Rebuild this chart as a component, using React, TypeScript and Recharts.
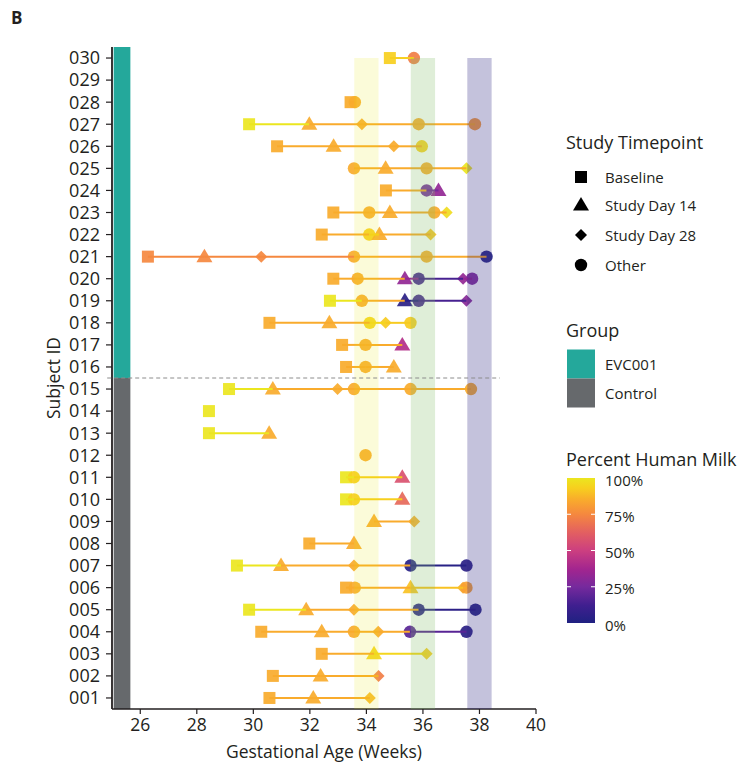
import React from 'react';
import {
  ComposedChart,
  Scatter,
  XAxis,
  YAxis,
  ReferenceArea,
  ReferenceLine
} from 'recharts';

// subject ids, bottom (001) to top (030)
const subjectIds = [
  '001', '002', '003', '004', '005', '006', '007', '008', '009', '010',
  '011', '012', '013', '014', '015', '016', '017', '018', '019', '020',
  '021', '022', '023', '024', '025', '026', '027', '028', '029', '030'
];

// gestational age (weeks) of each sample, per subject
const gestAge: number[][] = [
  [30.57, 32.12, 34.12],
  [30.69, 32.38, 34.43],
  [32.42, 34.27, 36.13],
  [30.28, 32.42, 33.56, 34.42, 35.54, 37.54],
  [29.85, 31.87, 33.56, 35.85, 37.86],
  [33.28, 33.59, 35.56, 37.42, 37.54],
  [29.42, 30.98, 33.56, 35.56, 37.54],
  [31.98, 33.56],
  [34.27, 35.69],
  [33.28, 33.56, 35.27],
  [33.28, 33.56, 35.27],
  [33.97],
  [28.43, 30.56],
  [28.43],
  [29.14, 30.69, 32.98, 33.56, 35.56, 37.7],
  [33.28, 33.97, 34.97],
  [33.14, 33.97, 35.27],
  [30.57, 32.69, 34.12, 34.68, 35.56],
  [32.71, 33.84, 35.36, 35.85, 37.54],
  [32.83, 33.69, 35.36, 35.85, 37.42, 37.74],
  [26.27, 28.27, 30.28, 33.56, 36.13, 38.25],
  [32.42, 34.1, 34.46, 36.27],
  [32.83, 34.1, 34.83, 36.4, 36.84],
  [34.69, 36.13, 36.55],
  [33.56, 34.68, 36.13, 37.54],
  [30.84, 32.84, 34.97, 35.96],
  [29.85, 31.98, 33.84, 35.85, 37.84],
  [33.44, 33.59],
  [],
  [34.83, 35.68]
];

// B = Baseline, T14 = Study Day 14, T28 = Study Day 28, O = Other
const timepoint: string[][] = [
  ['B', 'T14', 'T28'],
  ['B', 'T14', 'T28'],
  ['B', 'T14', 'T28'],
  ['B', 'T14', 'O', 'T28', 'O', 'O'],
  ['B', 'T14', 'T28', 'O', 'O'],
  ['B', 'O', 'T14', 'T28', 'O'],
  ['B', 'T14', 'T28', 'O', 'O'],
  ['B', 'T14'],
  ['T14', 'T28'],
  ['B', 'O', 'T14'],
  ['B', 'O', 'T14'],
  ['O'],
  ['B', 'T14'],
  ['B'],
  ['B', 'T14', 'T28', 'O', 'O', 'O'],
  ['B', 'O', 'T14'],
  ['B', 'O', 'T14'],
  ['B', 'T14', 'O', 'T28', 'O'],
  ['B', 'O', 'T14', 'O', 'T28'],
  ['B', 'O', 'T14', 'O', 'T28', 'O'],
  ['B', 'T14', 'T28', 'O', 'O', 'O'],
  ['B', 'O', 'T14', 'T28'],
  ['B', 'O', 'T14', 'O', 'T28'],
  ['B', 'O', 'T14'],
  ['O', 'T14', 'O', 'T28'],
  ['B', 'T14', 'T28', 'O'],
  ['B', 'T14', 'T28', 'O', 'O'],
  ['B', 'O'],
  [],
  ['B', 'O']
];

// percent human milk at each sample
const humanMilkPct: number[][] = [
  [85, 85, 88],
  [85, 85, 72],
  [85, 95, 92],
  [85, 85, 85, 85, 18, 4],
  [100, 85, 85, 5, 2],
  [85, 85, 90, 85, 82],
  [100, 85, 85, 3, 4],
  [85, 85],
  [85, 85],
  [100, 93, 65],
  [100, 93, 57],
  [85],
  [100, 85],
  [100],
  [100, 85, 85, 85, 85, 85],
  [85, 85, 85],
  [85, 85, 42],
  [85, 85, 95, 92, 92],
  [100, 85, 4, 14, 30],
  [85, 85, 33, 14, 33, 28],
  [75, 75, 75, 85, 85, 2],
  [85, 93, 85, 90],
  [85, 85, 85, 85, 97],
  [85, 25, 33],
  [85, 85, 85, 100],
  [85, 85, 85, 93],
  [100, 85, 85, 85, 80],
  [85, 85],
  [],
  [93, 72]
];

const xTicks = [26, 28, 30, 32, 34, 36, 38, 40];
const yTicks = subjectIds.map((_, i) => i + 1);
// sampling windows (weeks)
const windowStart = [33.57, 35.57, 37.57];
const windowEnd = [34.43, 36.43, 38.43];
const windowColors = ['#e6e600', '#7fbb63', '#2a2580'];
const windowOpacity = [0.15, 0.25, 0.28];
const groupBreak = 15.5;
const timepointLabels = ['Baseline', 'Study Day 14', 'Study Day 28', 'Other'];
const timepointKeys = ['B', 'T14', 'T28', 'O'];
const groupLabels = ['EVC001', 'Control'];
const groupColors = ['#24a89b', '#66696c'];
const milkTicks = [100, 75, 50, 25, 0];

const COLOR_STOPS: [number, string][] = [
  [0, '#1f2181'],
  [12, '#3f1f8f'],
  [25, '#762a9d'],
  [37, '#a2258f'],
  [50, '#cc3f80'],
  [62, '#e25e62'],
  [75, '#f5883f'],
  [85, '#f9ab2c'],
  [93, '#f7cf1e'],
  [100, '#ebe61f']
];

const hex = (c: string) => [1, 3, 5].map((i) => parseInt(c.slice(i, i + 2), 16));
const milkColor = (p: number) => {
  for (let i = 1; i < COLOR_STOPS.length; i++) {
    const [p1, c1] = COLOR_STOPS[i];
    const [p0, c0] = COLOR_STOPS[i - 1];
    if (p <= p1) {
      const t = (p - p0) / (p1 - p0);
      const a = hex(c0);
      const b = hex(c1);
      const m = a.map((v, k) => Math.round(v + (b[k] - v) * t));
      return `rgb(${m[0]},${m[1]},${m[2]})`;
    }
  }
  return COLOR_STOPS[COLOR_STOPS.length - 1][1];
};

const points = subjectIds.flatMap((_, i) =>
  gestAge[i].map((x, j) => ({ x, y: i + 1, tp: timepoint[i][j], pct: humanMilkPct[i][j] }))
);

const segments = subjectIds.flatMap((_, i) =>
  gestAge[i].slice(1).map((x, j) => ({
    x1: gestAge[i][j],
    x2: x,
    y: i + 1,
    color: milkColor(humanMilkPct[i][j])
  }))
);

const FONT = '"Open Sans", "Noto Sans", sans-serif';
const INK = '#231f20';

const MarkerShape = ({ tp, cx, cy, fill, opacity }: any) => {
  if (tp === 'B') return <rect x={cx - 6} y={cy - 6} width={12} height={12} fill={fill} fillOpacity={opacity} />;
  if (tp === 'T14')
    return <polygon points={`${cx},${cy - 8} ${cx - 8},${cy + 5.5} ${cx + 8},${cy + 5.5}`} fill={fill} fillOpacity={opacity} />;
  if (tp === 'T28')
    return <polygon points={`${cx},${cy - 6} ${cx + 6},${cy} ${cx},${cy + 6} ${cx - 6},${cy}`} fill={fill} fillOpacity={opacity} />;
  return <circle cx={cx} cy={cy} r={6.2} fill={fill} fillOpacity={opacity} />;
};

const renderPoint = (props: any) => {
  const { cx, cy, payload } = props;
  if (cx == null || cy == null) return <g />;
  return <MarkerShape tp={payload.tp} cx={cx} cy={cy} fill={milkColor(payload.pct)} opacity={0.92} />;
};

const yLabel = (props: any) => {
  const vb = props.viewBox || { y: 47, height: 662 };
  const cx = 53;
  const cy = vb.y + vb.height / 2;
  return (
    <text x={cx} y={cy} transform={`rotate(-90 ${cx} ${cy})`} textAnchor="middle" dominantBaseline="central"
      fontFamily={FONT} fontSize={17.5} fill={INK}>
      Subject ID
    </text>
  );
};

const xLabel = (props: any) => {
  const vb = props.viewBox || { x: 112, width: 424 };
  return (
    <text x={vb.x + vb.width / 2} y={751} textAnchor="middle" dominantBaseline="central"
      fontFamily={FONT} fontSize={17.5} fill={INK}>
      Gestational Age (Weeks)
    </text>
  );
};

const Legend = () => {
  const itemY = [177, 205, 235, 265];
  const barTop = 478;
  const barH = 145;
  return (
    <svg width={737} height={764} style={{ position: 'absolute', left: 0, top: 0, pointerEvents: 'none' }}>
      <defs>
        <linearGradient id="milkGrad" x1="0" y1="1" x2="0" y2="0">
          {COLOR_STOPS.map(([p, c]) => (
            <stop key={p} offset={`${p}%`} stopColor={c} />
          ))}
        </linearGradient>
      </defs>
      <text x={11} y={24} fontFamily={FONT} fontSize={17} fontWeight={700} fill={INK}>B</text>

      <text x={566} y={142} dominantBaseline="central" fontFamily={FONT} fontSize={18} fill={INK}>Study Timepoint</text>
      {timepointKeys.map((k, i) => (
        <g key={k}>
          <MarkerShape tp={k} cx={581} cy={itemY[i]} fill="#000" opacity={1} />
          <text x={605} y={itemY[i]} dominantBaseline="central" fontFamily={FONT} fontSize={15} fill={INK}>
            {timepointLabels[i]}
          </text>
        </g>
      ))}

      <text x={566} y={330} dominantBaseline="central" fontFamily={FONT} fontSize={18} fill={INK}>Group</text>
      {groupLabels.map((g, i) => (
        <g key={g}>
          <rect x={567} y={349.5 + i * 29} width={28} height={29} fill={groupColors[i]} />
          <text x={605} y={364 + i * 29} dominantBaseline="central" fontFamily={FONT} fontSize={15} fill={INK}>{g}</text>
        </g>
      ))}

      <text x={566} y={459} dominantBaseline="central" fontFamily={FONT} fontSize={18} fill={INK}>Percent Human Milk</text>
      <rect x={567} y={barTop} width={28} height={barH} fill="url(#milkGrad)" />
      {milkTicks.map((t) => {
        const y = barTop + ((100 - t) / 100) * barH;
        return (
          <g key={t}>
            {t > 0 && t < 100 && (
              <>
                <line x1={567} x2={571} y1={y} y2={y} stroke="#fff" strokeWidth={1} />
                <line x1={591} x2={595} y1={y} y2={y} stroke="#fff" strokeWidth={1} />
              </>
            )}
            <text x={605} y={y + 1.5} dominantBaseline="central" fontFamily={FONT} fontSize={15} fill={INK}>{`${t}%`}</text>
          </g>
        );
      })}
    </svg>
  );
};

export default function App() {
  return (
    <div style={{ position: 'absolute', left: 0, top: 0, width: 737, height: 764, background: '#fff' }}>
      <ComposedChart width={737} height={764} margin={{ top: 47, right: 201, bottom: 0, left: 0 }}>
        <XAxis
          type="number"
          dataKey="x"
          domain={[25, 40]}
          ticks={xTicks}
          allowDataOverflow
          height={55}
          tickSize={5}
          tickMargin={5}
          axisLine={{ stroke: INK, strokeWidth: 1.5 }}
          tickLine={{ stroke: INK, strokeWidth: 1.2 }}
          tick={{ fill: INK, fontSize: 17.5, fontFamily: FONT }}
          label={xLabel}
        />
        <YAxis
          type="number"
          dataKey="y"
          domain={[0.5, 30.5]}
          ticks={yTicks}
          interval={0}
          allowDataOverflow
          width={112}
          tickSize={6}
          tickMargin={6}
          tickFormatter={(v: number) => subjectIds[v - 1] ?? ''}
          axisLine={{ stroke: INK, strokeWidth: 1.8 }}
          tickLine={{ stroke: INK, strokeWidth: 1.2 }}
          tick={{ fill: INK, fontSize: 18, fontFamily: FONT }}
          label={yLabel}
        />
        <ReferenceArea x1={25.06} x2={25.65} y1={groupBreak} y2={30.5} fill={groupColors[0]} fillOpacity={1} stroke="none" />
        <ReferenceArea x1={25.06} x2={25.65} y1={0.5} y2={groupBreak} fill={groupColors[1]} fillOpacity={1} stroke="none" />
        <Scatter data={points} shape={renderPoint} isAnimationActive={false} />
        {segments.map((s, i) => (
          <ReferenceLine
            key={`seg-${i}`}
            segment={[{ x: s.x1, y: s.y }, { x: s.x2, y: s.y }]}
            stroke={s.color}
            strokeWidth={2}
            zIndex={650}
          />
        ))}
        {windowStart.map((w, i) => (
          <ReferenceArea
            key={`win-${i}`}
            x1={w}
            x2={windowEnd[i]}
            y1={0.5}
            y2={30}
            fill={windowColors[i]}
            fillOpacity={windowOpacity[i]}
            stroke="none"
            zIndex={700}
          />
        ))}
        <ReferenceLine
          segment={[{ x: 24.83, y: groupBreak }, { x: 38.72, y: groupBreak }]}
          stroke="#8c8c8c"
          strokeDasharray="4 3"
          strokeWidth={1}
          ifOverflow="visible"
          zIndex={710}
        />
      </ComposedChart>
      <Legend />
    </div>
  );
}
